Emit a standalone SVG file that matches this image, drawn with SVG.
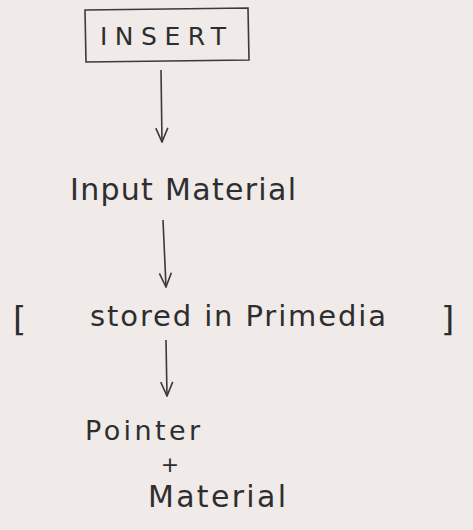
<svg xmlns="http://www.w3.org/2000/svg" width="473" height="530" viewBox="0 0 473 530">
<style>
.t{font-family:"DejaVu Sans","Liberation Sans",sans-serif;fill:#2e2e2e}
.c{stroke:#3a3a3a;stroke-width:1.6;fill:none}
</style>
<defs>
<marker id="ah" viewBox="0 0 16 14" refX="15" refY="7" markerWidth="16" markerHeight="14" markerUnits="userSpaceOnUse" orient="auto">
<path d="M1,1 L15,7 L1,13" fill="none" stroke="#3a3a3a" stroke-width="1.6"/>
</marker>
</defs>
<rect width="473" height="530" fill="#f0eae9"/>
<g id="insert">
<path d="M85,10 L248,8 L249,60 L86,62 Z" class="c" stroke-width="1.1" stroke="#777"/>
<text x="100" y="45" class="t" font-size="25" textLength="126" lengthAdjust="spacing">INSERT</text>
</g>
<g id="input">
<text x="70" y="200" class="t" font-size="30" textLength="226" lengthAdjust="spacing">Input Material</text>
</g>
<g id="stored">
<text x="13" y="331" class="t" font-size="34">[</text>
<text x="90" y="326" class="t" font-size="29" textLength="296" lengthAdjust="spacing">stored in Primedia</text>
<text x="441" y="331" class="t" font-size="34">]</text>
</g>
<g id="pointer">
<text x="85" y="440" class="t" font-size="27" textLength="115" lengthAdjust="spacing">Pointer</text>
<text x="170" y="472" class="t" font-size="22" text-anchor="middle">+</text>
<text x="148" y="507" class="t" font-size="30" textLength="138" lengthAdjust="spacing">Material</text>
</g>
<g id="connectors">
<line x1="161" y1="70" x2="162" y2="142" class="c" marker-end="url(#ah)"/>
<line x1="163" y1="220" x2="166" y2="287" class="c" marker-end="url(#ah)"/>
<line x1="166" y1="340" x2="167" y2="396" class="c" marker-end="url(#ah)"/>
</g>
</svg>
